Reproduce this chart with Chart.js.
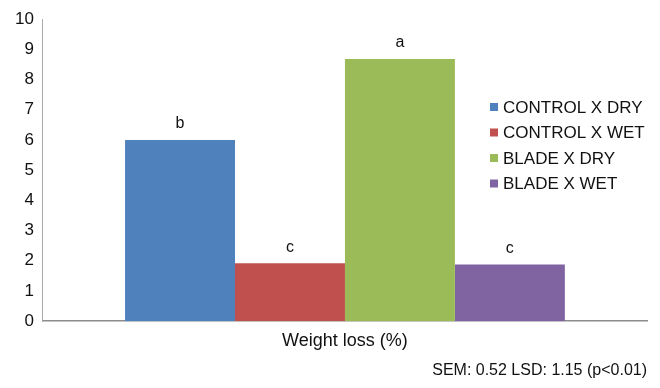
<!DOCTYPE html>
<html>
<head>
<meta charset="utf-8">
<script src="https://cdn.jsdelivr.net/npm/chart.js@4.4.1/dist/chart.umd.min.js"></script>
<style>
  html, body { margin: 0; padding: 0; background: #fff; }
  #wrap { width: 660px; height: 388px; }
</style>
</head>
<body>
<div id="wrap"><canvas id="bar-chart"></canvas></div>
<script>
// data
var categories = ["Weight loss (%)"];
var seriesNames = ["CONTROL X DRY", "CONTROL X WET", "BLADE X DRY", "BLADE X WET"];
var seriesValues = [6.0, 1.92, 8.68, 1.88];
var letters = ["b", "c", "a", "c"];
var colors = ["#4F81BD", "#C0504D", "#9BBB59", "#8064A2"];
var yTicks = [0, 1, 2, 3, 4, 5, 6, 7, 8, 9, 10];
var note = "SEM: 0.52 LSD: 1.15 (p<0.01)";

var fontFamily = "'Liberation Sans', Arial, Helvetica, sans-serif";
var fs = 17;

var datasets = seriesNames.map(function (name, i) {
  return {
    label: name,
    data: [seriesValues[i]],
    backgroundColor: colors[i],
    borderWidth: 0,
    barPercentage: 1.0,
    categoryPercentage: 0.728
  };
});

// letters above bars + legend inside the plot
var extras = {
  id: 'extras',
  afterDatasetsDraw: function (chart) {
    var ctx = chart.ctx;
    ctx.save();
    ctx.fillStyle = '#111';
    ctx.font = "16px " + fontFamily;
    ctx.textAlign = 'center';
    ctx.textBaseline = 'middle';
    chart.data.datasets.forEach(function (ds, i) {
      var bar = chart.getDatasetMeta(i).data[0];
      ctx.fillText(letters[i], bar.x, bar.y - 16);
    });

    // legend
    var lx = 490, ly = 107, step = 25.5;
    ctx.font = fs + "px " + fontFamily;
    ctx.textAlign = 'left';
    chart.data.datasets.forEach(function (ds, i) {
      var y = ly + i * step;
      ctx.fillStyle = ds.backgroundColor;
      ctx.fillRect(lx, y - 4, 8, 8);
      ctx.fillStyle = '#111';
      ctx.fillText(ds.label, lx + 13, y + 1);
    });
    ctx.restore();
  }
};

new Chart(document.getElementById("bar-chart"), {
  type: 'bar',
  data: {
    labels: categories,
    datasets: datasets
  },
  options: {
    responsive: true,
    maintainAspectRatio: false,
    animation: false,
    layout: { padding: { left: 6, right: 13, top: 16, bottom: 0 } },
    plugins: {
      legend: { display: false },
      tooltip: { enabled: false },
      title: {
        display: true,
        text: note,
        position: 'bottom',
        align: 'end',
        color: '#111',
        font: { family: fontFamily, size: 16, weight: 'normal' },
        padding: { top: 0, bottom: 8 }
      }
    },
    scales: {
      x: {
        grid: { display: false, drawTicks: false },
        border: { display: true, color: '#8c8c8c', width: 1.5 },
        ticks: {
          color: '#111',
          padding: 9,
          font: { family: fontFamily, size: 18 }
        }
      },
      y: {
        min: 0,
        max: 10,
        afterBuildTicks: function (axis) {
          axis.ticks = yTicks.map(function (v) { return { value: v }; });
        },
        grid: { display: false, drawTicks: false },
        border: { display: true, color: '#aaaaaa', width: 1 },
        ticks: {
          color: '#111',
          padding: 9,
          font: { family: fontFamily, size: fs }
        }
      }
    }
  },
  plugins: [extras]
});
</script>
</body>
</html>
